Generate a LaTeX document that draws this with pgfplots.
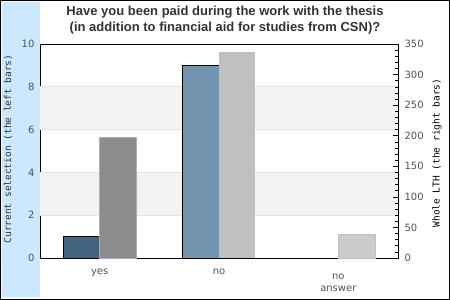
\documentclass[border=0pt]{standalone}
\usepackage{pgfplots}
\pgfplotsset{compat=1.18}
\usepackage{fontspec}
\setmainfont{DejaVu Sans}
\newfontfamily\titlefont{Liberation Sans}
\newfontfamily\monofont{DejaVu Sans Mono}
\definecolor{band}{HTML}{CCE8FF}
\definecolor{txt}{HTML}{333333}
\definecolor{gridc}{HTML}{E2E2E2}
\definecolor{bandg}{HTML}{F3F3F3}
\definecolor{selyes}{HTML}{436380}
\definecolor{selno}{HTML}{7394AE}
\definecolor{allyes}{HTML}{8C8C8C}
\definecolor{allno}{HTML}{C0C0C0}
\definecolor{allna}{HTML}{CCCCCC}
\begin{document}
\begin{tikzpicture}
\path (0,0) rectangle (450pt,300pt);
\fill[band] (2pt,3pt) rectangle (40pt,298pt);
\node[font=\titlefont\bfseries\fontsize{13}{16}\selectfont, text=txt, align=center] at (225pt,280pt)
  {Have you been paid during the work with the thesis\\(in addition to financial aid for studies from CSN)?};
\begin{axis}[
  at={(40pt,42pt)}, anchor=south west,
  scale only axis, width=358pt, height=214pt,
  xmin=-0.5, xmax=2.5, ymin=0, ymax=10,
  xtick={0,1,2}, xticklabels={yes,no,{\rule{0pt}{11pt}no\\answer}},
  xticklabel style={align=center, anchor=north, yshift=-7pt, text=txt!85, font=\fontsize{10}{12}\selectfont},
  ytick={0,2,4,6,8,10},
  yticklabel style={text=txt!85, font=\fontsize{10}{12}\selectfont, xshift=-2pt},
  /pgf/number format/assume math mode=true,
  major tick length=0pt,
  axis line style={black, line width=0.9pt},
]
\addplot[fill=bandg, draw=none, forget plot] coordinates {(-0.5,2) (2.5,2) (2.5,4) (-0.5,4)} -- cycle;
\addplot[fill=bandg, draw=none, forget plot] coordinates {(-0.5,6) (2.5,6) (2.5,8) (-0.5,8)} -- cycle;
\addplot[gridc, line width=0.8pt, forget plot] coordinates {(-0.5,2) (2.5,2)};
\addplot[gridc, line width=0.8pt, forget plot] coordinates {(-0.5,4) (2.5,4)};
\addplot[gridc, line width=0.8pt, forget plot] coordinates {(-0.5,6) (2.5,6)};
\addplot[gridc, line width=0.8pt, forget plot] coordinates {(-0.5,8) (2.5,8)};
\addplot[ybar, bar width=0.305, bar shift=-0.1525, fill=selyes, draw=black, line width=0.8pt] coordinates {(0,1)};
\addplot[ybar, bar width=0.305, bar shift=-0.1525, fill=selno, draw=black, line width=0.8pt] coordinates {(1,9)};
\end{axis}
\begin{axis}[
  at={(40pt,42pt)}, anchor=south west,
  scale only axis, width=358pt, height=214pt,
  xmin=-0.5, xmax=2.5, ymin=0, ymax=350,
  hide x axis,
  axis y line*=right,
  ytick={0,50,...,350},
  minor ytick={10,20,...,340},
  tick align=inside,
  major tick length=5pt, minor tick length=3pt,
  tick style={black, line width=0.6pt},
  yticklabel style={text=txt!85, font=\fontsize{10}{12}\selectfont, xshift=3pt},
  /pgf/number format/assume math mode=true,
  axis line style={black, line width=0.9pt},
  ybar, bar width=0.305,
]
\addplot[bar shift=0.1525, fill=allyes, draw=black!32] coordinates {(0,198)};
\addplot[bar shift=0.1525, fill=allno, draw=none] coordinates {(1,337)};
\addplot[bar shift=0.1525, fill=allna, draw=black!25] coordinates {(2,39)};
\end{axis}
\node[rotate=90, font=\monofont\fontsize{9.5}{11}\selectfont, text=txt] at (8pt,151pt) {Current selection (the left bars)};
\node[rotate=90, font=\monofont\fontsize{9.5}{11}\selectfont, text=black] at (437pt,147pt) {Whole LTH (the right bars)};
\draw[black, line width=1pt] (0.5pt,0.5pt) rectangle (449.5pt,299.5pt);
\end{tikzpicture}
\end{document}
